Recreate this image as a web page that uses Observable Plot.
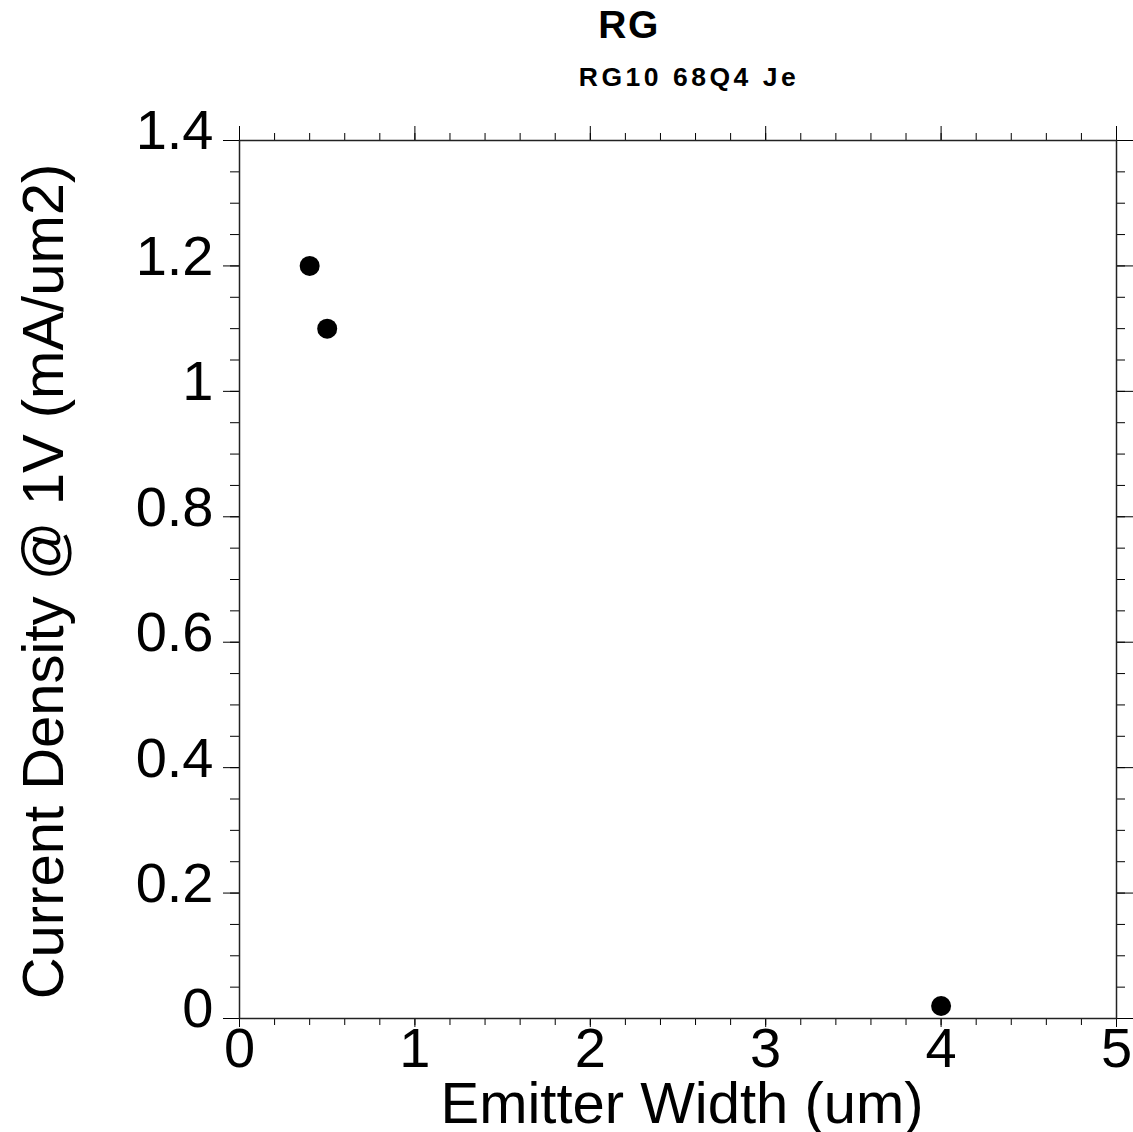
<!DOCTYPE html>
<html>
<head>
<meta charset="utf-8">
<script src="https://cdn.jsdelivr.net/npm/d3@7"></script>
<script src="https://cdn.jsdelivr.net/npm/@observablehq/plot@0.6"></script>
<style>
  html, body { margin: 0; padding: 0; background: #fff; }
  #wrap { position: relative; width: 1133px; height: 1132px; overflow: hidden; font-family: "Liberation Sans", Arial, sans-serif; }
  #header { position: relative; width: 1133px; height: 95px; }
  .title { position: absolute; white-space: nowrap; font-weight: bold; color: #000; line-height: 1; transform: translateX(-50%); }
  #t1 { left: 629px; top: 5px; font-size: 39px; letter-spacing: 1.5px; }
  #t2 { left: 689px; top: 64px; font-size: 26.5px; letter-spacing: 3.5px; }
  #chart svg { display: block; }
</style>
</head>
<body>
<div id="wrap">
  <div id="header">
    <div class="title" id="t1"></div>
    <div class="title" id="t2"></div>
  </div>
  <div id="chart"></div>
</div>
<script>
// ---- data ----
const title = "RG";
const subtitle = "RG10 68Q4 Je";
const xLabel = "Emitter Width (um)";
const yLabel = "Current Density @ 1V (mA/um2)";
const emitterWidth = [0.4, 0.5, 4];
const currentDensity = [1.2, 1.1, 0.02];
const xTicks = [0, 1, 2, 3, 4, 5];
const yTicks = [0, 0.2, 0.4, 0.6, 0.8, 1, 1.2, 1.4];
const xMinorStep = 0.2;
const yMinorStep = 0.05;
const xDomain = [0, 5];
const yDomain = [0, 1.4];

// ---- build ----
document.getElementById("t1").textContent = title;
document.getElementById("t2").textContent = subtitle;

const points = emitterWidth.map((x, i) => ({x, y: currentDensity[i]}));
const xMinor = d3.range(0, Math.round(xDomain[1] / xMinorStep) + 1).map(i => +(i * xMinorStep).toFixed(4));
const yMinor = d3.range(0, Math.round(yDomain[1] / yMinorStep) + 1).map(i => +(i * yMinorStep).toFixed(4));
const blank = () => "";
const tickFont = 56;

const chart = Plot.plot({
  width: 1133,
  height: 1037,
  marginLeft: 239,
  marginRight: 17,
  marginTop: 45,
  marginBottom: 114,
  style: {fontFamily: "'Liberation Sans', Arial, sans-serif", color: "#000", background: "#fff"},
  x: {domain: xDomain},
  y: {domain: yDomain},
  marks: [
    // bottom ticks
    Plot.axisX(xMinor, {anchor: "bottom", tickSize: 7, tickFormat: blank, label: null, stroke: "#000"}),
    Plot.axisX(xTicks, {anchor: "bottom", tickSize: 9, tickFormat: blank, label: null, stroke: "#000"}),
    Plot.axisX(xTicks, {anchor: "bottom", tickSize: 0, tickPadding: 9, fontSize: tickFont, tickFormat: d => String(d), label: null}),
    // top ticks
    Plot.axisX(xMinor, {anchor: "top", tickSize: 8, tickFormat: blank, label: null, stroke: "#000"}),
    Plot.axisX(xTicks, {anchor: "top", tickSize: 15, tickFormat: blank, label: null, stroke: "#000"}),
    // left ticks
    Plot.axisY(yMinor, {anchor: "left", tickSize: 9, tickFormat: blank, label: null, stroke: "#000"}),
    Plot.axisY(yTicks, {anchor: "left", tickSize: 16, tickFormat: blank, label: null, stroke: "#000"}),
    Plot.axisY(yTicks, {anchor: "left", tickSize: 0, tickPadding: 26, dy: -9, fontSize: tickFont, tickFormat: d => String(d), label: null}),
    // right ticks
    Plot.axisY(yMinor, {anchor: "right", tickSize: 8, tickFormat: blank, label: null, stroke: "#000"}),
    Plot.axisY(yTicks, {anchor: "right", tickSize: 16, tickFormat: blank, label: null, stroke: "#000"}),
    Plot.frame({stroke: "#222", strokeWidth: 1.5}),
    Plot.dot(points, {x: "x", y: "y", r: 10, fill: "#000", stroke: null}),
    Plot.text([yLabel], {frameAnchor: "left", text: d => d, rotate: -90, dx: -195, dy: 2, fontSize: 58, textAnchor: "middle", lineAnchor: "middle", fill: "#000"}),
    Plot.text([xLabel], {frameAnchor: "bottom", text: d => d, dx: 4, dy: 86, fontSize: 57, textAnchor: "middle", lineAnchor: "middle", fill: "#000"})
  ]
});
// condense the x-axis title to the reference's proportions
d3.select(chart).selectAll("text")
  .filter(function() { return this.textContent === xLabel; })
  .attr("textLength", 483)
  .attr("lengthAdjust", "spacingAndGlyphs");
document.getElementById("chart").appendChild(chart);
</script>
</body>
</html>
